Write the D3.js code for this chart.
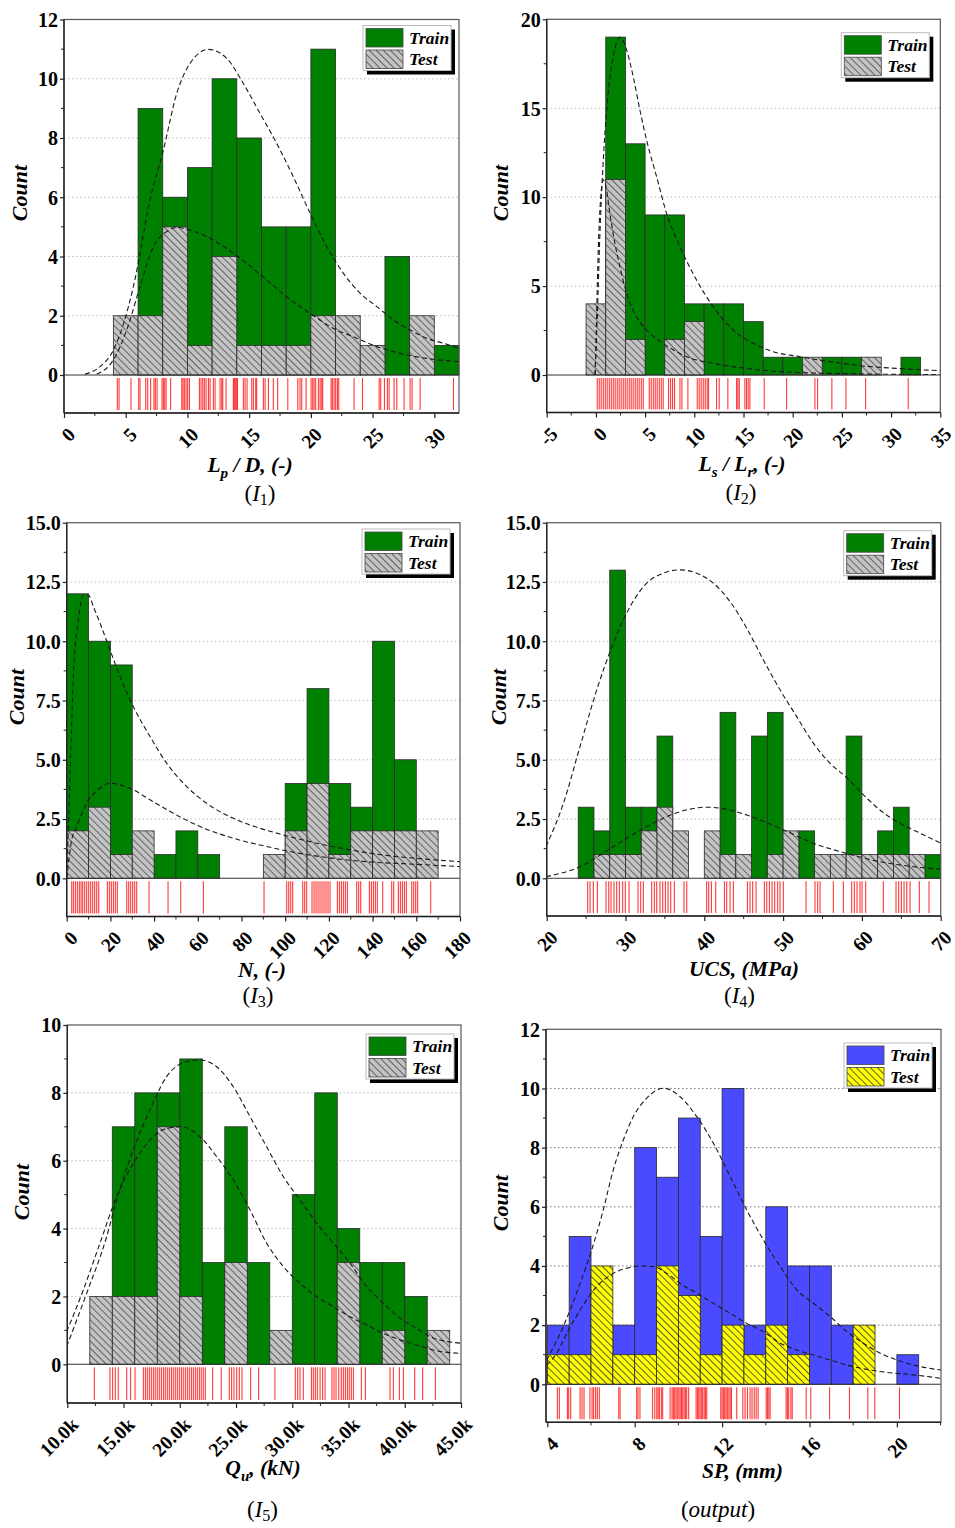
<!DOCTYPE html>
<html><head><meta charset="utf-8">
<script src="https://cdn.jsdelivr.net/npm/d3@7"></script>
<style>body{margin:0;background:#fff}</style>
</head><body>
<svg id="chart" width="955" height="1528"></svg>
<script>
// ---------------- DATA ----------------
// Panel I1 : Lp/D
const p1Bins = [4,6,8,10,12,14,16,18,20,22,24,26,28,30];
const p1Train = [0,9,6,7,10,8,5,5,11,0,0,4,0,1];
const p1Test  = [2,2,5,1,4,1,1,1,2,2,1,0,2,0];
const p1TrainCurve = [[1.70,0.03],[2.92,0.28],[4.00,0.84],[5.62,2.98],[6.97,5.91],[8.05,7.59],[9.13,9.50],[10.21,10.52],[11.70,10.99],[13.18,10.69],[14.53,9.84],[15.88,8.83],[17.23,7.82],[18.58,6.69],[19.94,5.46],[21.29,4.33],[22.64,3.43],[23.99,2.76],[25.34,2.31],[26.69,1.86],[28.04,1.52],[29.39,1.24],[30.74,1.07],[32.04,0.90]];
const p1TestCurve = [[2.65,0.03],[4.00,0.51],[5.08,1.52],[6.16,2.98],[7.24,4.33],[8.32,4.84],[9.13,4.98],[10.21,4.89],[11.56,4.67],[13.18,4.27],[14.80,3.77],[16.42,3.21],[18.04,2.64],[19.94,2.08],[21.83,1.57],[23.45,1.29],[25.34,0.96],[27.23,0.73],[29.39,0.56],[32.04,0.45]];
const p1Rug = [4.32,4.46,5.43,6.05,6.16,6.62,6.78,7.02,7.29,7.40,7.54,7.94,8.05,8.16,8.27,8.64,9.54,9.64,9.75,9.89,10.02,10.16,10.97,11.10,11.24,11.37,11.51,11.70,11.83,12.10,12.24,12.64,12.78,12.86,13.13,13.72,13.80,13.88,13.99,14.05,14.53,14.67,14.83,15.21,15.34,15.53,15.61,16.15,16.29,16.56,16.96,17.31,18.13,18.94,19.12,19.26,19.61,20.02,20.15,20.26,20.39,20.61,20.75,20.88,20.96,21.64,21.74,21.88,22.01,22.15,22.26,23.50,24.18,25.53,25.66,25.96,26.20,26.34,26.74,26.96,27.55,28.04,28.20,28.85,31.55];
const p1XTicks = [0,5,10,15,20,25,30];
const p1XTickLabels = ["0","5","10","15","20","25","30"];
const p1YTicks = [0,2,4,6,8,10,12];
const p1YTickLabels = ["0","2","4","6","8","10","12"];

// Panel I2 : Ls/Lr
const p2Bins = [-1,1,3,5,7,9,11,13,15,17,19,21,23,25,27,29,31];
const p2Train = [0,19,13,9,9,4,4,4,3,1,1,0,1,1,0,0,1];
const p2Test  = [4,11,2,0,2,3,0,0,0,0,0,1,0,0,1,0,0];
const p2TrainCurve = [[-0.10,0],[0.14,3.28],[0.41,7.97],[0.81,12.65],[1.25,15.84],[1.76,17.90],[2.44,18.99],[3.12,18.28],[3.79,16.78],[4.47,14.90],[5.15,13.21],[6.17,11.15],[7.18,9.09],[8.54,7.22],[10.23,5.34],[11.92,3.84],[13.96,2.53],[15.99,1.78],[18.02,1.31],[20.73,1.03],[23.78,0.75],[27.17,0.51],[30.56,0.37],[35.06,0.24]];
const p2TestCurve = [[-0.07,0],[0.07,3.28],[0.24,7.03],[0.47,9.84],[0.75,10.97],[1.02,10.59],[1.42,9.09],[1.93,7.40],[2.44,6.09],[3.12,4.59],[4.13,3.28],[5.15,2.53],[6.84,1.78],[9.21,1.03],[11.92,0.66],[15.31,0.37],[18.70,0.19],[23.78,0.09],[35.06,0.02]];
const p2Rug = [0.14,0.34,0.54,0.75,0.95,1.15,1.36,1.56,1.76,1.96,2.17,2.37,2.57,2.78,2.98,3.18,3.39,3.59,3.79,4.00,4.20,4.40,4.61,4.81,5.42,5.62,5.83,6.03,6.23,6.44,6.64,6.84,7.38,7.59,7.79,7.99,8.54,8.74,9.35,10.30,10.50,10.70,10.91,11.11,11.31,11.45,12.26,12.53,13.41,14.30,14.43,14.57,15.14,15.31,15.48,15.65,17.11,19.38,22.26,22.53,23.98,25.41,27.41,31.74];
const p2XTicks = [-5,0,5,10,15,20,25,30,35];
const p2XTickLabels = ["-5","0","5","10","15","20","25","30","35"];
const p2YTicks = [0,5,10,15,20];
const p2YTickLabels = ["0","5","10","15","20"];

// Panel I3 : N
const p3Bins = [0,10,20,30,40,50,60,70,80,90,100,110,120,130,140,150,160];
const p3Train = [12,10,9,0,1,2,1,0,0,0,4,8,4,3,10,5,0];
const p3Test  = [2,3,1,2,0,0,0,0,0,1,2,4,1,2,2,2,2];
const p3TrainCurve = [[0,0],[1.53,4.29],[3.05,8.51],[5.34,10.90],[7.63,11.95],[9.92,11.95],[12.20,11.46],[15.26,10.76],[19.83,9.63],[24.41,8.51],[30.51,7.24],[38.14,5.98],[45.77,4.85],[54.92,3.87],[64.07,3.16],[76.28,2.53],[88.48,2.11],[99.16,1.83],[114.42,1.48],[129.67,1.20],[144.93,0.98],[160.18,0.84],[180.47,0.70]];
const p3TestCurve = [[0,0],[2.29,1.62],[4.58,2.18],[9.15,3.16],[15.26,3.80],[19.83,4.01],[24.41,3.94],[30.51,3.73],[38.14,3.31],[48.82,2.74],[61.02,2.18],[76.28,1.69],[91.53,1.34],[106.79,1.05],[122.04,0.84],[137.30,0.70],[160.18,0.59],[180.47,0.49]];
const p3Rug = [2.29,3.05,3.97,4.88,5.80,6.56,7.32,8.24,9.15,10.07,10.98,11.90,12.81,13.73,14.65,18.61,19.53,20.44,21.36,22.27,23.19,27.46,28.38,29.29,30.21,31.12,32.04,37.68,46.38,52.17,62.55,90.31,100.69,101.60,102.52,103.43,108.01,108.92,109.84,112.28,113.20,114.11,115.03,115.94,116.86,117.77,118.69,119.60,120.52,123.88,124.79,125.71,126.62,127.54,128.45,132.72,133.64,134.55,138.52,139.44,140.35,141.27,142.18,144.62,148.74,149.66,151.79,152.71,153.62,154.54,155.45,157.90,158.81,159.73,160.64,166.59];
const p3XTicks = [0,20,40,60,80,100,120,140,160,180];
const p3XTickLabels = ["0","20","40","60","80","100","120","140","160","180"];
const p3YTicks = [0,2.5,5,7.5,10,12.5,15];
const p3YTickLabels = ["0.0","2.5","5.0","7.5","10.0","12.5","15.0"];

// Panel I4 : UCS
const p4Bins = [24,26,28,30,32,34,36,38,40,42,44,46,48,50,52,54,56,58,60,62,64,66,68];
const p4Train = [3,2,13,3,3,6,0,0,0,7,0,6,7,0,2,0,0,6,0,2,3,0,1];
const p4Test  = [0,1,1,1,2,3,2,0,2,1,1,0,1,2,0,1,1,1,1,1,1,1,0];
const p4TrainCurve = [[19.92,1.34],[22.12,3.16],[24.23,5.56],[26.35,7.95],[28.46,9.92],[30.58,11.46],[32.69,12.45],[34.81,12.87],[36.92,13.01],[39.04,12.87],[41.15,12.45],[43.27,11.67],[45.38,10.55],[47.50,9.21],[49.61,7.95],[51.73,6.82],[53.84,5.70],[55.96,4.85],[58.07,4.25],[60.19,3.52],[62.30,2.88],[64.42,2.39],[66.53,2.04],[70.04,1.48]];
const p4TestCurve = [[19.92,0.07],[24.23,0.49],[28.46,1.34],[32.69,2.18],[36.92,2.81],[40.30,3.00],[43.27,2.88],[45.38,2.67],[49.61,2.11],[53.84,1.48],[58.07,1.05],[62.30,0.70],[66.53,0.49],[70.04,0.38]];
const p4Rug = [25.20,25.50,25.92,26.43,27.53,27.87,28.16,28.54,28.88,29.22,29.64,29.98,30.45,31.59,31.93,32.27,33.32,33.66,33.96,34.38,34.72,35.06,35.40,35.74,36.20,37.43,37.77,40.30,40.56,40.90,41.45,42.55,42.84,43.27,43.69,45.47,45.80,46.14,46.57,47.62,47.92,48.26,48.60,48.93,49.31,49.61,50.03,52.91,54.05,54.39,54.69,56.38,57.65,58.71,59.04,59.38,59.76,60.02,60.48,62.72,64.33,64.67,65.01,65.35,65.69,66.11,67.29,68.52];
const p4XTicks = [20,30,40,50,60,70];
const p4XTickLabels = ["20","30","40","50","60","70"];
const p4YTicks = [0,2.5,5,7.5,10,12.5,15];
const p4YTickLabels = ["0.0","2.5","5.0","7.5","10.0","12.5","15.0"];

// Panel I5 : Qu (kN)
const p5Bins = [12000,14000,16000,18000,20000,22000,24000,26000,28000,30000,32000,34000,36000,38000,40000,42000];
const p5Train = [0,7,8,8,9,3,7,3,0,5,8,4,3,3,2,0];
const p5Test  = [2,2,2,7,2,0,3,0,1,0,0,3,0,1,0,1];
const p5TrainCurve = [[9941,0.52],[11719,2.09],[13497,3.76],[14386,4.84],[15868,6.32],[17350,7.50],[18832,8.48],[20610,8.92],[21796,8.97],[23278,8.77],[24760,8.18],[26242,7.30],[27724,6.41],[29206,5.53],[30688,4.84],[32170,4.16],[33652,3.57],[35134,2.98],[36616,2.29],[38098,1.80],[39580,1.36],[41061,1.06],[42543,0.77],[45062,0.62]];
const p5TestCurve = [[9941,0.96],[11423,2.19],[12905,3.57],[14386,4.94],[15868,5.92],[17350,6.61],[18832,6.95],[20166,7.00],[21796,6.71],[23278,6.12],[24760,5.43],[26242,4.55],[27724,3.57],[29206,2.88],[30688,2.39],[32170,1.99],[33652,1.70],[35134,1.40],[36616,1.16],[38098,0.91],[39580,0.72],[41061,0.57],[42543,0.42],[45062,0.32]];
const p5Rug = [12400,13790,14030,14270,14530,15280,15630,16020,16760,16940,17110,17290,17470,17650,17820,18000,18180,18360,18540,18710,18890,19070,19250,19420,19600,19780,19960,20140,20310,20490,20670,20850,21030,21200,21380,21560,21740,21910,22090,22270,22920,23690,24400,24610,24820,25060,25290,25530,26300,27010,28460,30270,30480,30690,30980,31700,31870,32050,32230,32470,32700,32910,33530,33710,33890,34130,34360,34540,34720,34900,35070,35250,35430,36140,36500,38690,38990,39520,39880,40880,41590,42720];
const p5XTicks = [10000,15000,20000,25000,30000,35000,40000,45000];
const p5XTickLabels = ["10.0k","15.0k","20.0k","25.0k","30.0k","35.0k","40.0k","45.0k"];
const p5YTicks = [0,2,4,6,8,10];
const p5YTickLabels = ["0","2","4","6","8","10"];

// Panel output : SP (mm)
const p6Bins = [4,5,6,7,8,9,10,11,12,13,14,15,16,17,18,19,20];
const p6Train = [2,5,0,2,8,7,9,5,10,2,6,4,4,2,0,0,1];
const p6Test  = [1,1,4,1,1,4,3,1,2,1,2,1,0,0,2,0,0];
const p6TrainCurve = [[3.97,0.82],[4.73,1.95],[5.50,3.41],[6.03,4.54],[6.56,5.89],[7.02,7.25],[7.48,8.26],[7.94,9.05],[8.55,9.67],[9.31,10.01],[10.08,9.72],[10.84,9.05],[11.60,8.15],[12.37,7.02],[13.13,5.89],[13.89,4.88],[14.66,3.98],[15.42,3.19],[16.18,2.74],[16.95,2.29],[17.71,1.78],[18.47,1.39],[19.24,1.05],[20.00,0.82],[20.76,0.65],[22.03,0.48]];
const p6TestCurve = [[3.97,0.65],[4.43,1.05],[4.89,1.72],[5.50,2.51],[6.26,3.30],[7.02,3.75],[7.79,3.95],[8.24,4.00],[8.85,3.98],[9.47,3.75],[10.08,3.41],[10.84,3.08],[11.60,2.74],[12.37,2.40],[13.13,2.06],[13.89,1.78],[14.66,1.39],[15.42,1.16],[16.18,0.99],[16.95,0.82],[17.71,0.65],[19.24,0.43],[20.76,0.32],[22.03,0.20]];
const p6Rug = [4.46,4.55,4.92,4.98,5.07,5.50,5.59,5.68,5.95,6.05,6.12,6.21,6.29,6.38,7.27,7.33,8.09,8.15,8.24,8.82,8.92,9.01,9.07,9.13,9.22,9.28,9.62,9.71,9.77,9.83,9.89,9.95,10.02,10.08,10.14,10.20,10.26,10.32,10.38,10.47,10.81,10.87,10.93,10.99,11.05,11.11,11.18,11.24,11.30,11.94,12.00,12.06,12.12,12.18,12.24,12.31,12.37,12.43,12.67,12.95,13.05,13.16,13.28,13.37,13.47,13.56,13.65,14.02,14.08,14.14,14.20,14.93,14.99,15.05,15.15,15.21,15.85,16.06,16.92,17.83,18.67,18.99,20.12];
const p6XTicks = [4,8,12,16,20];
const p6XTickLabels = ["4","8","12","16","20"];
const p6YTicks = [0,2,4,6,8,10,12];
const p6YTickLabels = ["0","2","4","6","8","10","12"];

const legendLabels = ["Train","Test"];

// ---------------- LAYOUT / CONFIG ----------------
const SERIF = "'Liberation Serif','Times New Roman',serif";
const panels = [
 {box:[64,459,19.5,375,413], xDom:[0,32], yMax:12, binW:2, xMinor:2.5, yMinor:1,
  bins:p1Bins, train:p1Train, test:p1Test, trC:p1TrainCurve, teC:p1TestCurve, rug:p1Rug,
  xt:p1XTicks, xtl:p1XTickLabels, yt:p1YTicks, ytl:p1YTickLabels,
  trainFill:"#008000", testFill:"url(#hGray)", grid:"#bdbdbd", leg:[8,6], count:[19,193],
  title:[["L",0],["p",1],[" / D, (-)",0]], titlePos:[250,472], label:[["(",0],["I",2],["1",1],[")",0]], labelPos:[260,501]},
 {box:[546.7,940.3,19.3,375,412.5], xDom:[-5,35], yMax:20, binW:2, xMinor:2.5, yMinor:2.5,
  bins:p2Bins, train:p2Train, test:p2Test, trC:p2TrainCurve, teC:p2TestCurve, rug:p2Rug,
  xt:p2XTicks, xtl:p2XTickLabels, yt:p2YTicks, ytl:p2YTickLabels,
  trainFill:"#008000", testFill:"url(#hGray)", grid:"#bdbdbd", leg:[11,13.4], count:[500.7,193],
  title:[["L",0],["s",1],[" / L",0],["r",1],[", (-)",0]], titlePos:[742,471], label:[["(",0],["I",2],["2",1],[")",0]], labelPos:[741,500]},
 {box:[66.7,460,522.7,878.3,916.5], xDom:[0,180], yMax:15, binW:10, xMinor:10, yMinor:1.25,
  bins:p3Bins, train:p3Train, test:p3Test, trC:p3TrainCurve, teC:p3TestCurve, rug:p3Rug,
  xt:p3XTicks, xtl:p3XTickLabels, yt:p3YTicks, ytl:p3YTickLabels,
  trainFill:"#008000", testFill:"url(#hGray)", grid:"#bdbdbd", leg:[10,6.3], count:[16,697],
  title:[["N, (-)",0]], titlePos:[262,977], label:[["(",0],["I",2],["3",1],[")",0]], labelPos:[258,1003]},
 {box:[546.7,940.7,522.7,878.3,916], xDom:[20,70], yMax:15, binW:2, xMinor:5, yMinor:1.25,
  bins:p4Bins, train:p4Train, test:p4Test, trC:p4TrainCurve, teC:p4TestCurve, rug:p4Rug,
  xt:p4XTicks, xtl:p4XTickLabels, yt:p4YTicks, ytl:p4YTickLabels,
  trainFill:"#008000", testFill:"url(#hGray)", grid:"#bdbdbd", leg:[9,8], count:[498.3,697],
  title:[["UCS, (MPa)",0]], titlePos:[744,976], label:[["(",0],["I",2],["4",1],[")",0]], labelPos:[739.5,1003]},
 {box:[67.3,461,1025,1364.3,1403], xDom:[10000,45000], yMax:10, binW:2000, xMinor:2500, yMinor:1,
  bins:p5Bins, train:p5Train, test:p5Test, trC:p5TrainCurve, teC:p5TestCurve, rug:p5Rug,
  xt:p5XTicks, xtl:p5XTickLabels, yt:p5YTicks, ytl:p5YTickLabels,
  trainFill:"#008000", testFill:"url(#hGray)", grid:"#bdbdbd", leg:[7,9], count:[21.7,1192],
  title:[["Q",0],["u",1],[", (kN)",0]], titlePos:[263,1475], label:[["(",0],["I",2],["5",1],[")",0]], labelPos:[262.5,1517]},
 {box:[546,941,1029.3,1384.3,1422.3], xDom:[3.94,22.02], yMax:12, binW:1, xMinor:2, yMinor:1,
  bins:p6Bins, train:p6Train, test:p6Test, trC:p6TrainCurve, teC:p6TestCurve, rug:p6Rug,
  xt:p6XTicks, xtl:p6XTickLabels, yt:p6YTicks, ytl:p6YTickLabels,
  trainFill:"#4a4aff", testFill:"url(#hYellow)", grid:"#7a7a7a", leg:[9,13.7], count:[500.7,1203],
  title:[["SP, (mm)",0]], titlePos:[742.5,1478], label:[["(",0],["output",2],[")",0]], labelPos:[718,1517]}
];

// ---------------- DRAW ----------------
const svg = d3.select("#chart");
const defs = svg.append("defs");
function hatch(id, fill, stroke){
  const p = defs.append("pattern").attr("id",id).attr("patternUnits","userSpaceOnUse")
    .attr("width",5).attr("height",5).attr("patternTransform","rotate(-45)");
  p.append("rect").attr("width",5).attr("height",5).attr("fill",fill);
  p.append("line").attr("x1",0.5).attr("y1",0).attr("x2",0.5).attr("y2",5).attr("stroke",stroke).attr("stroke-width",0.8);
}
hatch("hGray","#c3c3c3","#4a4a4a");
hatch("hYellow","#ffff00","#333333");

function richText(sel, parts, size, subShift){
  const sh = subShift === undefined ? size*0.28 : subShift;
  parts.forEach(([t,k],i)=>{
    const ts = sel.append("tspan").text(t);
    let dy = 0;
    if(k===1) { ts.attr("font-size", size*0.7); dy = sh; }
    if(i>0 && parts[i-1][1]===1 && k!==1) dy = -sh;
    ts.attr("dy", dy);
    if(k===2) ts.attr("font-style","italic");
  });
}

panels.forEach((p,pi)=>{
  const [x0,x1,yTop,yZero,yBot] = p.box;
  const g = svg.append("g");
  const x = d3.scaleLinear().domain(p.xDom).range([x0,x1]);
  const y = d3.scaleLinear().domain([0,p.yMax]).range([yZero,yTop]);
  const cid = "clip"+pi;
  defs.append("clipPath").attr("id",cid).append("rect")
    .attr("x",x0).attr("y",yTop).attr("width",x1-x0).attr("height",yZero-yTop);

  // grid
  g.append("g").selectAll("line").data(p.yt.filter(v=>v>0 && v<p.yMax)).join("line")
    .attr("x1",x0).attr("x2",x1).attr("y1",d=>y(d)).attr("y2",d=>y(d))
    .attr("stroke",p.grid).attr("stroke-width",1).attr("stroke-dasharray","1.5,2.5");

  const barData = (arr)=>p.bins.map((b,i)=>({b, v:arr[i]})).filter(d=>d.v>0);
  const stroke = "#2a2a2a";
  g.append("g").selectAll("rect").data(barData(p.train)).join("rect")
    .attr("x",d=>x(d.b)).attr("width",d=>x(d.b+p.binW)-x(d.b))
    .attr("y",d=>y(d.v)).attr("height",d=>y(0)-y(d.v))
    .attr("fill",p.trainFill).attr("stroke",stroke).attr("stroke-width",0.8);
  g.append("g").selectAll("rect").data(barData(p.test)).join("rect")
    .attr("x",d=>x(d.b)).attr("width",d=>x(d.b+p.binW)-x(d.b))
    .attr("y",d=>y(d.v)).attr("height",d=>y(0)-y(d.v))
    .attr("fill",p.testFill).attr("stroke",stroke).attr("stroke-width",0.8);

  // fitted curves
  const line = d3.line().x(d=>x(d[0])).y(d=>y(d[1])).curve(d3.curveMonotoneX);
  [p.trC, p.teC].forEach(c=>{
    g.append("path").attr("d",line(c)).attr("clip-path",`url(#${cid})`)
      .attr("fill","none").attr("stroke","#1a1a1a").attr("stroke-width",1.1).attr("stroke-dasharray","5,3");
  });

  // rug
  g.append("g").selectAll("line").data(p.rug).join("line")
    .attr("x1",d=>x(d)).attr("x2",d=>x(d)).attr("y1",yZero+3).attr("y2",yBot-3)
    .attr("stroke","#ff0000").attr("stroke-opacity",0.78).attr("stroke-width",1.1);

  // zero line & frame
  g.append("line").attr("x1",x0).attr("x2",x1).attr("y1",yZero).attr("y2",yZero)
    .attr("stroke","#333").attr("stroke-width",1.1);
  g.append("rect").attr("x",x0).attr("y",yTop).attr("width",x1-x0).attr("height",yBot-yTop)
    .attr("fill","none").attr("stroke","#555").attr("stroke-width",1.2);
  g.append("line").attr("x1",x0).attr("x2",x0).attr("y1",yTop).attr("y2",yBot).attr("stroke","#222").attr("stroke-width",1.4);
  g.append("line").attr("x1",x0).attr("x2",x1).attr("y1",yBot).attr("y2",yBot).attr("stroke","#222").attr("stroke-width",1.4);

  // x axis
  const xa = g.append("g").attr("transform",`translate(0,${yBot})`)
    .call(d3.axisBottom(x).tickValues(p.xt).tickFormat((d,i)=>p.xtl[i]).tickSize(5).tickSizeOuter(0));
  xa.select(".domain").remove();
  xa.selectAll(".tick line").attr("stroke","#222").attr("stroke-width",1.2);
  xa.selectAll(".tick text").attr("x",7).attr("y",18).attr("dy","0.35em")
    .attr("text-anchor","end").attr("transform","rotate(-45,7,18)")
    .attr("font-family",SERIF).attr("font-weight","bold").attr("font-size",19.5).attr("fill","#000");
  const xminAll = d3.range(Math.ceil(p.xDom[0]/p.xMinor), Math.floor(p.xDom[1]/p.xMinor)+1).map(k=>k*p.xMinor)
    .filter(v=>!p.xt.some(t=>Math.abs(t-v)<1e-6));
  g.append("g").selectAll("line").data(xminAll).join("line")
    .attr("x1",d=>x(d)).attr("x2",d=>x(d)).attr("y1",yBot).attr("y2",yBot+3)
    .attr("stroke","#222").attr("stroke-width",1);

  // y axis
  const ya = g.append("g").attr("transform",`translate(${x0},0)`)
    .call(d3.axisLeft(y).tickValues(p.yt).tickFormat((d,i)=>p.ytl[i]).tickSize(4).tickPadding(2).tickSizeOuter(0));
  ya.select(".domain").remove();
  ya.selectAll(".tick line").attr("stroke","#222").attr("stroke-width",1.2);
  ya.selectAll(".tick text").attr("font-family",SERIF).attr("font-weight","bold").attr("font-size",20).attr("fill","#000").attr("dy","0.34em");
  const yminAll = d3.range(1, Math.round(p.yMax/p.yMinor)).map(k=>k*p.yMinor)
    .filter(v=>!p.yt.some(t=>Math.abs(t-v)<1e-6));
  g.append("g").selectAll("line").data(yminAll).join("line")
    .attr("x1",x0-3).attr("x2",x0).attr("y1",d=>y(d)).attr("y2",d=>y(d))
    .attr("stroke","#222").attr("stroke-width",1);

  // Count label
  g.append("text").attr("transform",`translate(${p.count[0]},${p.count[1]}) rotate(-90)`)
    .attr("text-anchor","middle").attr("dy","0.35em")
    .attr("font-family",SERIF).attr("font-weight","bold").attr("font-style","italic").attr("font-size",22)
    .text("Count");

  // x title
  const tt = g.append("text").attr("x",p.titlePos[0]).attr("y",p.titlePos[1]).attr("text-anchor","middle")
    .attr("font-family",SERIF).attr("font-weight","bold").attr("font-style","italic").attr("font-size",21.5);
  richText(tt, p.title, 21.5);

  // panel label
  const lt = g.append("text").attr("x",p.labelPos[0]).attr("y",p.labelPos[1]).attr("text-anchor","middle")
    .attr("font-family",SERIF).attr("font-size",23);
  richText(lt, p.label, 23, 4);

  // legend
  const lw = 88, lh = 45;
  const lx = x1 - p.leg[0] - lw, ly = yTop + p.leg[1];
  g.append("rect").attr("x",lx+4).attr("y",ly+4).attr("width",lw).attr("height",lh).attr("fill","#000");
  g.append("rect").attr("x",lx).attr("y",ly).attr("width",lw).attr("height",lh).attr("fill","#fff")
    .attr("stroke","#bbb").attr("stroke-width",1);
  [p.trainFill, p.testFill].forEach((f,i)=>{
    g.append("rect").attr("x",lx+3).attr("y",ly+3+i*21.5).attr("width",37).attr("height",18.5)
      .attr("fill",f).attr("stroke","#444").attr("stroke-width",0.8);
    g.append("text").attr("x",lx+46).attr("y",ly+18+i*21.5)
      .attr("font-family",SERIF).attr("font-weight","bold").attr("font-style","italic").attr("font-size",17.5)
      .text(legendLabels[i]);
  });
});
</script>
</body></html>
